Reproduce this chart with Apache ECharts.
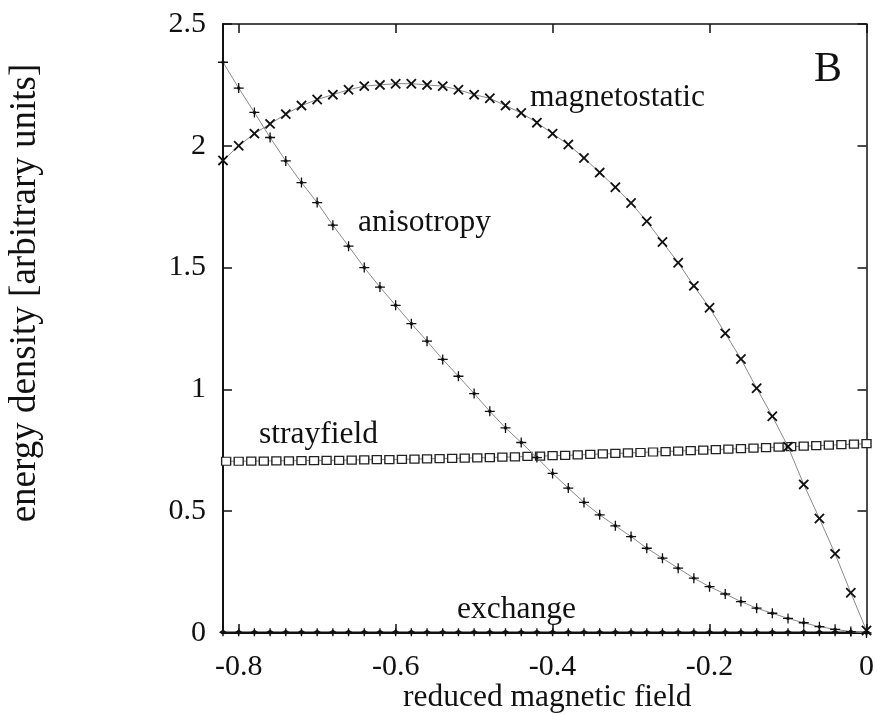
<!DOCTYPE html>
<html>
<head>
<meta charset="utf-8">
<title>Energy densities vs reduced magnetic field</title>
<script src="https://cdn.jsdelivr.net/npm/echarts@6/dist/echarts.min.js"></script>
<style>
  html, body { margin: 0; padding: 0; background: #ffffff; }
  #chart { width: 877px; height: 715px; }
</style>
</head>
<body>
<div id="chart"></div>
<script>
// Reduced magnetic field sampled for the anisotropy, magnetostatic and exchange curves
const fieldSteps = [
  -0.82, -0.80, -0.78, -0.76, -0.74, -0.72, -0.70, -0.68, -0.66, -0.64,
  -0.62, -0.60, -0.58, -0.56, -0.54, -0.52, -0.50, -0.48, -0.46, -0.44,
  -0.42, -0.40, -0.38, -0.36, -0.34, -0.32, -0.30, -0.28, -0.26, -0.24,
  -0.22, -0.20, -0.18, -0.16, -0.14, -0.12, -0.10, -0.08, -0.06, -0.04,
  -0.02, 0.00
];

const magnetostatic = [
  1.94, 2.00, 2.05, 2.09, 2.13, 2.165, 2.19, 2.21, 2.23, 2.245,
  2.25, 2.255, 2.255, 2.25, 2.245, 2.23, 2.21, 2.195, 2.165, 2.135,
  2.095, 2.05, 2.005, 1.95, 1.89, 1.83, 1.765, 1.69, 1.605, 1.52,
  1.425, 1.335, 1.23, 1.125, 1.005, 0.89, 0.765, 0.61, 0.47, 0.325,
  0.165, 0.01
];

const anisotropy = [
  2.343, 2.237, 2.137, 2.034, 1.938, 1.849, 1.767, 1.674, 1.588, 1.500,
  1.420, 1.345, 1.270, 1.198, 1.123, 1.054, 0.983, 0.910, 0.842, 0.782,
  0.720, 0.655, 0.595, 0.536, 0.485, 0.440, 0.396, 0.348, 0.307, 0.266,
  0.225, 0.190, 0.160, 0.129, 0.102, 0.081, 0.060, 0.042, 0.026, 0.015,
  0.006, 0.000
];

const exchange = [
  0.003, 0.003, 0.003, 0.003, 0.003, 0.003, 0.003, 0.003, 0.003, 0.003,
  0.003, 0.003, 0.003, 0.003, 0.003, 0.003, 0.003, 0.003, 0.003, 0.003,
  0.003, 0.003, 0.003, 0.003, 0.003, 0.003, 0.003, 0.003, 0.003, 0.003,
  0.003, 0.003, 0.003, 0.003, 0.003, 0.003, 0.003, 0.003, 0.003, 0.003,
  0.003, 0.003
];

// The stray field energy is sampled on a finer field grid
const strayFieldSteps = [
  -0.816, -0.800, -0.784, -0.768, -0.752, -0.736, -0.720, -0.704, -0.688, -0.672,
  -0.656, -0.640, -0.624, -0.608, -0.592, -0.576, -0.560, -0.544, -0.528, -0.512,
  -0.496, -0.480, -0.464, -0.448, -0.432, -0.416, -0.400, -0.384, -0.368, -0.352,
  -0.336, -0.320, -0.304, -0.288, -0.272, -0.256, -0.240, -0.224, -0.208, -0.192,
  -0.176, -0.160, -0.144, -0.128, -0.112, -0.096, -0.080, -0.064, -0.048, -0.032,
  -0.016, 0.000
];

const strayfield = [
  0.705, 0.705, 0.706, 0.706, 0.707, 0.707, 0.708, 0.708, 0.709, 0.709,
  0.710, 0.711, 0.712, 0.712, 0.713, 0.714, 0.715, 0.716, 0.717, 0.718,
  0.719, 0.720, 0.722, 0.723, 0.725, 0.726, 0.728, 0.729, 0.731, 0.733,
  0.735, 0.737, 0.739, 0.741, 0.743, 0.745, 0.747, 0.749, 0.751, 0.753,
  0.755, 0.757, 0.759, 0.761, 0.763, 0.765, 0.767, 0.769, 0.771, 0.773,
  0.775, 0.777
];

const yTicks = { min: 0, max: 2.5, step: 0.5 };
const xRange = { min: -0.82, max: 0 };

function pairs(xs, ys) {
  return xs.map(function (x, i) { return [x, ys[i]]; });
}

const serif = '"Liberation Serif", "DejaVu Serif", serif';
const ink = '#111111';

// Marker shapes: a plus sign (rotated for the cross) and a plus with a solid core
const plusPath = 'path://M4.3,0H5.7V4.3H10V5.7H5.7V10H4.3V5.7H0V4.3H4.3Z';
const dotPlusPath = 'path://M4.35,0H5.65V10H4.35Z M0,4.35H10V5.65H0Z M5,2.6L7.4,5L5,7.4L2.6,5Z';
const dotPath = 'path://M5,1.5L8.5,5L5,8.5L1.5,5Z M4.4,0H5.6V10H4.4Z';

const lineStyle = { color: '#8a8a8a', width: 1 };

const chart = echarts.init(document.getElementById('chart'), null, { renderer: 'canvas' });

chart.setOption({
  backgroundColor: '#ffffff',
  animation: false,
  grid: { left: 223, right: 10, top: 24, bottom: 82, containLabel: false },
  xAxis: [
    {
      type: 'value',
      position: 'bottom',
      min: xRange.min,
      max: xRange.max,
      splitNumber: 5,
      axisLine: { show: true, onZero: false, lineStyle: { color: ink, width: 2 } },
      axisTick: { show: true, inside: true, length: 9, lineStyle: { color: ink, width: 1.5 } },
      axisLabel: {
        showMinLabel: false,
        margin: 19,
        fontFamily: serif,
        fontSize: 30,
        color: ink
      },
      splitLine: { show: false }
    },
    {
      type: 'value',
      position: 'top',
      min: xRange.min,
      max: xRange.max,
      splitNumber: 5,
      axisLine: { show: true, onZero: false, lineStyle: { color: ink, width: 1.5 } },
      axisTick: { show: true, inside: true, length: 9, lineStyle: { color: ink, width: 1.5 } },
      axisLabel: { show: false },
      splitLine: { show: false }
    }
  ],
  yAxis: [
    {
      type: 'value',
      position: 'left',
      min: yTicks.min,
      max: yTicks.max,
      interval: yTicks.step,
      axisLine: { show: true, onZero: false, lineStyle: { color: ink, width: 2 } },
      axisTick: { show: true, inside: true, length: 9, lineStyle: { color: ink, width: 1.5 } },
      axisLabel: {
        margin: 17,
        fontFamily: serif,
        fontSize: 30,
        color: ink
      },
      splitLine: { show: false }
    },
    {
      type: 'value',
      position: 'right',
      min: yTicks.min,
      max: yTicks.max,
      interval: yTicks.step,
      axisLine: { show: true, onZero: false, lineStyle: { color: ink, width: 1.5 } },
      axisTick: { show: true, inside: true, length: 9, lineStyle: { color: ink, width: 1.5 } },
      axisLabel: { show: false },
      splitLine: { show: false }
    }
  ],
  series: [
    {
      name: 'strayfield',
      type: 'line',
      data: pairs(strayFieldSteps, strayfield),
      symbol: 'rect',
      symbolSize: [9, 8],
      showAllSymbol: true,
      lineStyle: lineStyle,
      itemStyle: { color: '#ffffff', borderColor: '#222222', borderWidth: 1.3 },
      z: 2
    },
    {
      name: 'exchange',
      type: 'line',
      data: pairs(fieldSteps, exchange),
      symbol: dotPath,
      symbolSize: 8,
      showAllSymbol: true,
      lineStyle: { color: ink, width: 1.5 },
      itemStyle: { color: ink },
      z: 3
    },
    {
      name: 'anisotropy',
      type: 'line',
      data: pairs(fieldSteps, anisotropy),
      symbol: dotPlusPath,
      symbolSize: 10,
      showAllSymbol: true,
      lineStyle: lineStyle,
      itemStyle: { color: ink },
      z: 4
    },
    {
      name: 'magnetostatic',
      type: 'line',
      data: pairs(fieldSteps, magnetostatic),
      symbol: plusPath,
      symbolSize: 13,
      symbolRotate: 45,
      showAllSymbol: true,
      lineStyle: lineStyle,
      itemStyle: { color: ink },
      z: 5
    }
  ],
  graphic: [
    {
      type: 'text', left: 530, top: 82,
      style: { text: 'magnetostatic', font: '31.5px ' + serif, fill: ink }
    },
    {
      type: 'text', left: 358, top: 207,
      style: { text: 'anisotropy', font: '31.5px ' + serif, fill: ink }
    },
    {
      type: 'text', left: 259, top: 419,
      style: { text: 'strayfield', font: '31.5px ' + serif, fill: ink }
    },
    {
      type: 'text', left: 457, top: 594,
      style: { text: 'exchange', font: '31.5px ' + serif, fill: ink }
    },
    {
      type: 'text', left: 814, top: 49,
      style: { text: 'B', font: '42px ' + serif, fill: ink }
    },
    {
      type: 'text', left: 403, top: 682,
      style: { text: 'reduced magnetic field', font: '31.5px ' + serif, fill: ink }
    },
    {
      type: 'text',
      x: 25, y: 293,
      rotation: Math.PI / 2,
      style: {
        text: 'energy density [arbitrary units]',
        font: '37px ' + serif,
        fill: ink,
        align: 'center',
        verticalAlign: 'middle'
      }
    }
  ]
});
</script>
</body>
</html>
